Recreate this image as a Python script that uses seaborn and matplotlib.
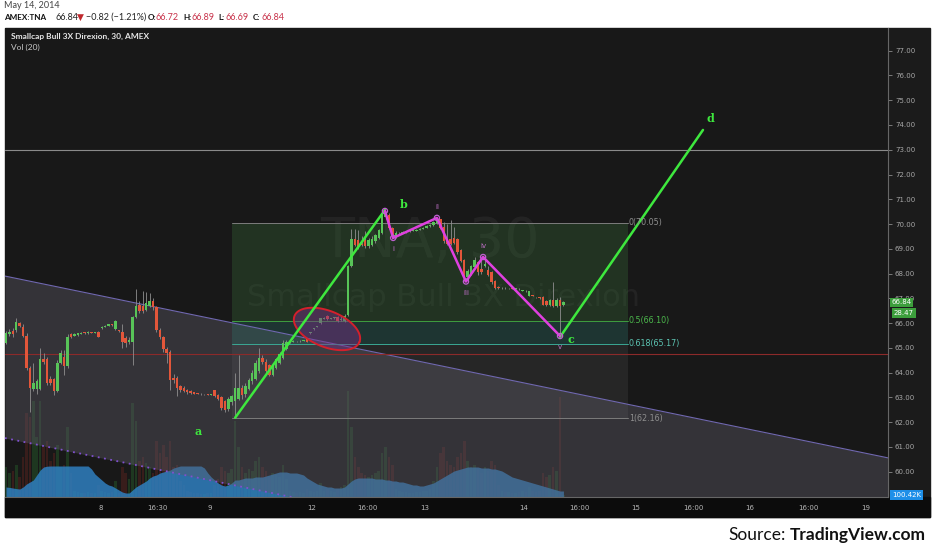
import numpy as np
import pandas as pd
import matplotlib
matplotlib.use("Agg")
import matplotlib.pyplot as plt
import seaborn as sns

# ==================== 数据 (30分钟K线, 含盘前盘后) ====================
opens = [
    65.20, 65.55, 65.70, 65.72, 66.00, 65.85, 65.50, 64.20, 63.35, 63.35,
    63.35, 64.55, 64.55, 63.75, 63.75, 63.25, 64.40, 64.65, 64.25, 65.55,
    65.50, 65.52, 65.58, 65.62, 65.60, 65.64, 65.62, 65.66, 65.80, 65.86,
    65.90, 65.95, 65.75, 65.70, 65.64, 65.40, 65.25, 65.24, 66.25, 66.75,
    66.70, 66.55, 66.70, 66.90, 66.65, 65.72, 65.45, 64.95, 64.85, 63.80,
    63.80, 63.45, 63.40, 63.30, 63.25, 63.20, 63.15, 63.14, 63.12, 63.12,
    63.10, 63.30, 63.10, 63.00, 62.85, 62.55, 62.80, 62.85, 62.95, 63.40,
    63.15, 63.35, 63.65, 63.75, 64.05, 64.60, 64.45, 64.30, 63.90, 64.20,
    64.40, 64.60, 64.95, 65.22, 65.25, 65.27, 65.26, 65.28, 65.38, 65.60,
    65.75, 65.85, 66.00, 66.18, 66.30, 66.18, 66.20, 66.25, 66.12, 66.10,
    66.33, 68.30, 69.40, 69.35, 69.20, 69.35, 69.10, 69.15, 69.30, 69.45,
    69.65, 70.30, 70.37, 69.84, 69.50, 69.62, 69.65, 69.68, 69.70, 69.72,
    69.74, 69.78, 69.82, 69.85, 69.92, 69.96, 70.05, 70.20, 69.90, 69.40,
    69.40, 69.44, 69.40, 68.95, 68.55, 67.85, 68.00, 68.25, 68.45, 68.20,
    68.30, 68.15, 68.05, 67.70, 67.45, 67.40, 67.42, 67.40, 67.41, 67.39,
    67.38, 67.30, 67.30, 67.10, 67.12, 67.05, 67.02, 67.05, 66.90, 66.72,
    66.95, 66.70, 66.95, 66.72,
]
highs = [
    65.70, 65.75, 65.80, 66.20, 66.05, 65.95, 65.60, 64.25, 64.40, 63.75,
    65.00, 64.80, 64.65, 63.85, 63.80, 64.50, 64.90, 64.90, 65.55, 65.60,
    65.62, 65.62, 65.64, 65.65, 65.68, 65.66, 65.66, 65.70, 65.88, 65.92,
    65.97, 65.97, 66.12, 65.72, 65.95, 65.50, 65.45, 66.30, 67.38, 66.90,
    67.30, 67.25, 67.20, 67.00, 66.70, 65.80, 65.50, 65.05, 64.90, 63.95,
    63.85, 63.50, 63.45, 63.35, 63.30, 63.22, 63.17, 63.16, 63.15, 63.14,
    63.14, 63.32, 63.15, 63.05, 62.90, 63.00, 63.10, 64.00, 64.70, 63.50,
    63.60, 63.80, 64.10, 64.50, 65.00, 64.70, 64.55, 64.35, 64.40, 64.60,
    64.85, 65.30, 65.30, 65.30, 65.30, 65.29, 65.30, 65.32, 65.40, 65.64,
    65.80, 65.90, 66.22, 66.25, 66.33, 66.22, 66.25, 66.28, 66.30, 66.35,
    68.35, 69.82, 69.80, 69.75, 69.50, 69.70, 69.45, 69.50, 69.60, 69.80,
    70.40, 70.53, 70.45, 69.90, 69.70, 69.68, 69.72, 69.74, 69.76, 69.78,
    69.80, 69.85, 69.88, 69.95, 70.00, 70.12, 70.25, 70.22, 70.10, 70.00,
    70.15, 69.90, 69.45, 69.00, 68.60, 68.20, 68.35, 68.65, 68.50, 68.60,
    68.67, 68.30, 68.10, 67.75, 67.48, 67.45, 67.44, 67.43, 67.43, 67.42,
    67.40, 67.34, 67.32, 67.30, 67.14, 67.07, 67.04, 67.08, 66.95, 66.96,
    67.66, 67.00, 67.05, 66.89,
]
lows = [
    65.15, 65.50, 65.45, 65.65, 65.85, 65.45, 64.10, 62.40, 63.25, 63.15,
    63.30, 64.35, 63.50, 63.50, 63.10, 63.20, 64.35, 63.90, 64.20, 65.40,
    65.48, 65.50, 65.56, 65.58, 65.58, 65.60, 65.60, 65.42, 65.78, 65.84,
    65.88, 65.90, 65.72, 65.66, 65.00, 65.05, 65.15, 64.30, 66.20, 66.40,
    66.40, 66.50, 66.65, 66.55, 65.65, 65.35, 64.85, 64.40, 63.30, 63.60,
    63.05, 63.20, 63.20, 63.15, 63.12, 63.12, 63.12, 63.10, 63.10, 63.08,
    63.08, 63.00, 62.90, 62.50, 62.40, 62.45, 62.70, 62.16, 62.90, 62.95,
    63.00, 63.30, 63.55, 63.70, 64.00, 64.35, 63.95, 63.85, 63.85, 64.15,
    64.35, 64.55, 64.90, 65.20, 65.22, 65.24, 65.24, 65.26, 65.22, 65.58,
    65.73, 65.83, 65.98, 66.15, 66.12, 66.15, 66.18, 66.05, 66.08, 66.05,
    66.30, 68.25, 69.10, 69.00, 69.10, 69.05, 69.05, 69.10, 69.25, 69.40,
    69.60, 70.20, 69.80, 69.40, 69.45, 69.60, 69.62, 69.65, 69.68, 69.70,
    69.72, 69.75, 69.80, 69.83, 69.90, 69.92, 70.00, 69.80, 69.25, 69.15,
    69.15, 69.20, 68.80, 68.45, 67.70, 67.75, 67.95, 68.20, 67.95, 68.00,
    68.25, 67.90, 67.60, 67.38, 67.36, 67.38, 67.38, 67.38, 67.37, 67.37,
    67.34, 67.28, 67.26, 67.08, 67.08, 67.02, 66.98, 66.72, 66.70, 66.68,
    66.65, 66.65, 65.40, 66.69,
]
closes = [
    65.60, 65.65, 65.55, 66.05, 65.90, 65.50, 64.20, 63.40, 63.60, 63.65,
    64.55, 64.45, 63.60, 63.60, 63.25, 64.40, 64.80, 64.25, 65.45, 65.45,
    65.58, 65.60, 65.62, 65.60, 65.66, 65.62, 65.64, 65.45, 65.85, 65.90,
    65.95, 65.93, 66.10, 65.68, 65.24, 65.20, 65.30, 66.25, 66.70, 66.50,
    66.50, 66.80, 66.90, 66.65, 65.72, 65.45, 64.95, 64.80, 63.70, 63.70,
    63.40, 63.30, 63.25, 63.20, 63.18, 63.15, 63.14, 63.12, 63.13, 63.10,
    63.12, 63.05, 62.95, 62.57, 62.50, 62.95, 63.05, 63.40, 63.40, 63.10,
    63.45, 63.70, 64.00, 64.40, 64.60, 64.45, 64.05, 63.90, 64.30, 64.55,
    64.75, 65.20, 65.22, 65.25, 65.27, 65.26, 65.28, 65.30, 65.25, 65.62,
    65.78, 65.88, 66.20, 66.20, 66.15, 66.20, 66.22, 66.08, 66.15, 66.30,
    68.30, 69.40, 69.15, 69.05, 69.15, 69.10, 69.35, 69.40, 69.55, 69.75,
    70.35, 70.40, 69.84, 69.50, 69.62, 69.65, 69.68, 69.70, 69.72, 69.74,
    69.78, 69.82, 69.85, 69.92, 69.95, 70.08, 70.20, 69.84, 69.30, 69.20,
    69.20, 69.25, 68.87, 68.50, 67.82, 68.10, 68.30, 68.55, 68.05, 68.05,
    68.40, 67.95, 67.66, 67.42, 67.40, 67.42, 67.40, 67.41, 67.39, 67.40,
    67.36, 67.32, 67.28, 67.28, 67.10, 67.04, 67.00, 66.75, 66.75, 66.92,
    66.70, 66.95, 66.70, 66.84,
]
# 成交量 (K)
volumes = [
    1500, 1200, 1300, 1600, 1000, 2000, 4200, 4000, 4800, 3000,
    4800, 2500, 2800, 1800, 2200, 2600, 1500, 1600, 3500, 1200,
    300, 250, 200, 200, 250, 200, 200, 600, 300, 250,
    200, 250, 800, 200, 1500, 1200, 900, 4700, 3800, 1800,
    2000, 1700, 1500, 1200, 2800, 2200, 2600, 2000, 2800, 1500,
    1600, 800, 600, 300, 250, 200, 200, 150, 150, 200,
    200, 600, 900, 1500, 1300, 1200, 1400, 3800, 2500, 1500,
    1200, 1400, 1300, 1800, 2000, 1500, 1300, 1000, 1200, 1100,
    1000, 1600, 900, 300, 250, 200, 250, 200, 400, 300,
    250, 300, 700, 300, 400, 300, 250, 400, 500, 600,
    5300, 3500, 2000, 1500, 1200, 1100, 1000, 1100, 1200, 1300,
    2200, 2500, 2000, 1600, 400, 300, 250, 250, 200, 200,
    250, 250, 300, 300, 400, 800, 1500, 2200, 2500, 1800,
    1600, 1500, 2000, 2200, 2800, 1800, 1500, 1600, 1400, 1200,
    1500, 1300, 1800, 1600, 600, 300, 250, 250, 200, 200,
    250, 300, 250, 500, 300, 250, 300, 1200, 1000, 1100,
    1500, 1300, 5000, 100.42,
]
# Vol(20) 均线面积 (K)
vol_ma = [
    500, 480, 450, 420, 400, 500, 650, 750, 850, 1100,
    1350, 1500, 1540, 1550, 1550, 1550, 1550, 1550, 1550, 1550,
    1550, 1550, 1550, 1550, 1550, 1400, 1150, 1000, 850, 700,
    600, 550, 450, 350, 250, 200, 200, 350, 500, 600,
    700, 800, 950, 1050, 1100, 1200, 1250, 1300, 1350, 1450,
    1500, 1550, 1550, 1550, 1550, 1550, 1550, 1550, 1450, 1200,
    1000, 850, 700, 600, 550, 600, 700, 850, 850, 900,
    950, 950, 950, 1000, 1000, 1000, 1050, 1100, 1150, 1200,
    1250, 1250, 1250, 1200, 1200, 1200, 1150, 1100, 950, 850,
    750, 650, 600, 550, 500, 500, 450, 450, 450, 500,
    650, 800, 900, 950, 950, 950, 950, 950, 900, 900,
    900, 850, 850, 800, 800, 750, 750, 700, 650, 600,
    600, 550, 550, 600, 650, 700, 800, 900, 1000, 1100,
    1200, 1300, 1350, 1400, 1450, 1500, 1500, 1500, 1500, 1450,
    1450, 1450, 1400, 1400, 1350, 1300, 1200, 1100, 1000, 950,
    900, 850, 800, 750, 700, 650, 600, 550, 500, 450,
    400, 350, 300, 300,
]

# 斐波那契回撤
fib_ratios = ['0', '0.5', '0.618', '1']
fib_prices = [70.05, 66.10, 65.17, 62.16]
fib_bars = [66.1, 181.9]

# 波浪 a-b-c-d
wave_bars = [67.0, 110.8, 162.0, 203.8]
wave_prices = [62.18, 70.57, 65.44, 73.80]
wave_names = ['a', 'b', 'c', 'd']
wave_name_bars = [56.1, 116.4, 165.2, 206.0]
wave_name_prices = [61.61, 70.77, 65.32, 74.28]

# 子浪 i-v
sub_bars = [110.8, 113.2, 126.0, 134.5, 139.5, 162.0]
sub_prices = [70.53, 69.44, 70.25, 67.68, 68.67, 65.48]
sub_names = ['', 'i', 'ii', 'iii', 'iv', 'v']

# 下降通道
chan_bars = [-0.3, 257.9]
chan_upper = [67.90, 60.56]
chan_lower = [61.36, 54.02]

grey_level = 73.00
red_level = 64.75

price_ticks = list(range(60, 78))
time_pos = [27.8, 44.2, 59.6, 89.5, 105.6, 122.5, 151.5, 167.8, 184.2, 200.9, 217.5, 234.5, 251.5]
time_lbl = ['8', '16:30', '9', '12', '16:00', '13', '14', '16:00', '15', '16:00', '16', '16:00', '19']

last_price = 66.84
timer_lbl = '28.47'
last_vol_lbl = '100.42K'

# ==================== 绘图 ====================
sns.set_style("dark")
plt.rcParams['font.family'] = ['DejaVu Sans']

W, H = 932, 550
def fx(x):
    return x / W
def fy(y):
    return 1 - y / H

fig = plt.figure(figsize=(W / 100, H / 100), dpi=100, facecolor='white')

# 背景块
fig.patches.append(plt.Rectangle((fx(5), fy(517)), fx(925), 489 / H, transform=fig.transFigure,
                                 color='#1b1b1b', zorder=-2))
fig.patches.append(plt.Rectangle((fx(5), fy(517)), fx(925), 20 / H, transform=fig.transFigure,
                                 color='#0c0c0c', zorder=-1))

rect = [fx(5), fy(497), 883 / W, 469 / H]
ax_v = fig.add_axes(rect)
ax = fig.add_axes(rect)

xlim = (-0.29, 257.9)
ylim = (58.98, 77.916)

# 成交量层
ax_v.set_facecolor('#181818')
n = len(closes)
x = np.arange(n)
o = np.array(opens); c = np.array(closes); hi = np.array(highs); lo = np.array(lows)
up = c >= o
vcol = np.where(up, '#2f8a36', '#8c2c24')
ax_v.bar(x, volumes, width=0.75, color=vcol, alpha=0.28, linewidth=0)
ax_v.fill_between(x, 0, vol_ma, color='#2f7fc0', alpha=0.85, linewidth=0)
ax_v.set_ylim(0, 23450)
ax_v.set_xlim(*xlim)
for s in ax_v.spines.values():
    s.set_visible(False)
ax_v.set_xticks([]); ax_v.set_yticks([])
ax_v.tick_params(bottom=False, left=False, labelbottom=False, labelleft=False)

# 价格层
ax.set_facecolor('none')
ax.set_xlim(*xlim)
ax.set_ylim(*ylim)

# 通道
ax.fill_between(chan_bars, chan_lower, chan_upper, color='#5d5a66', alpha=0.42, linewidth=0, zorder=1)
ax.plot(chan_bars, chan_upper, color='#7068b0', lw=0.8, zorder=2)
ax.plot(chan_bars, chan_lower, color='#8050d0', lw=1.3, ls=(0, (1, 2.5)), zorder=2)

# 斐波那契
fib_fill = ['#3c7a3c', '#2f7a70', '#6a6a6a']
fib_alpha = [0.28, 0.30, 0.18]
for k in range(3):
    ax.fill_between(fib_bars, fib_prices[k + 1], fib_prices[k], color=fib_fill[k],
                    alpha=fib_alpha[k], linewidth=0, zorder=1.5)
fib_line = ['#7c7c7c', '#3f9f3f', '#3aa894', '#7c7c7c']
fib_txt = ['#8e8e8e', '#4cb84c', '#5cc4b2', '#8e8e8e']
for r, p, lc, tc in zip(fib_ratios, fib_prices, fib_line, fib_txt):
    ax.plot(fib_bars, [p, p], color=lc, lw=0.7, zorder=2)
    ax.text(fib_bars[1] + 0.2, p, f'{r}({p:.2f})', color=tc, fontsize=5.8,
            va='center', ha='left', zorder=6)

# 水印
ax.text(124, 69.27, 'TNA, 30', color='white', alpha=0.05, fontsize=40,
        ha='center', va='center', zorder=1.2)
ax.text(127.8, 67.02, 'Smallcap Bull 3X Direxion', color='white', alpha=0.05,
        fontsize=22, ha='center', va='center', zorder=1.2)

# 水平线
ax.axhline(grey_level, color='#8a8a8a', lw=0.8, zorder=2)
ax.axhline(red_level, color='#8c2a2a', lw=0.8, zorder=2)

# K线
ax.vlines(x, lo, hi, color='#8f8f8f', lw=0.6, zorder=3)
body_bottom = np.minimum(o, c)
body_h = np.maximum(np.abs(c - o), 0.035)
ax.bar(x, body_h, bottom=body_bottom, width=0.72,
       color=np.where(up, '#58c458', '#e2563a'), linewidth=0, zorder=4)

# 红色椭圆 (像素空间)
t = np.linspace(0, 2 * np.pi, 120)
th = np.deg2rad(-22)
ea, eb = 35, 18
ex = ea * np.cos(t) * np.cos(th) - eb * np.sin(t) * np.sin(th)
ey = ea * np.cos(t) * np.sin(th) + eb * np.sin(t) * np.cos(th)
ecx, ecy = (327 - 6) / 3.42, 77 - (329 - 50.7) / 24.77
ax.fill(ecx + ex / 3.42, ecy + ey / 24.77, facecolor='#7a2f8a', alpha=0.45, edgecolor='none', zorder=4.5)
ax.plot(ecx + ex / 3.42, ecy + ey / 24.77, color='#d4202c', lw=1.4, zorder=4.6)

# 波浪线
waves = pd.DataFrame({'bar': wave_bars, 'price': wave_prices})
sns.lineplot(data=waves.iloc[:2], x='bar', y='price', ax=ax, color='#3ee83e', lw=1.8, zorder=5)
sns.lineplot(data=waves.iloc[2:], x='bar', y='price', ax=ax, color='#3ee83e', lw=1.8, zorder=5)
subs = pd.DataFrame({'bar': sub_bars, 'price': sub_prices})
sns.lineplot(data=subs, x='bar', y='price', ax=ax, sort=False, color='#e040e0', lw=1.8, zorder=5.2)
sns.scatterplot(data=subs, x='bar', y='price', ax=ax, s=14, facecolor='none',
                edgecolor='#c060d0', linewidth=0.9, zorder=5.3)
for nm, bx, py in zip(wave_names, wave_name_bars, wave_name_prices):
    ax.text(bx, py, nm, color='#3ee83e', fontsize=8, fontweight='bold',
            family='DejaVu Serif', ha='center', va='center', zorder=7)
for nm, bx, py in zip(sub_names, sub_bars, sub_prices):
    if not nm:
        continue
    dy = 8 if nm in ('ii', 'iv') else -8
    ax.annotate(nm, (bx, py), xytext=(0, dy), textcoords='offset points', color='#c070c8',
                fontsize=5, ha='center', va='center', zorder=7)

# 坐标轴
ax.set_xlabel(''); ax.set_ylabel('')
ax.yaxis.tick_right()
ax.set_yticks(price_ticks)
ax.set_yticklabels([f'{p:.2f}' for p in price_ticks])
ax.set_xticks(time_pos)
ax.set_xticklabels(time_lbl)
ax.tick_params(axis='y', colors='#8a8a8a', labelcolor='#a8a8a8', labelsize=5, length=3, width=0.6, pad=2)
ax.tick_params(axis='x', colors='#8a8a8a', labelcolor='#b8b8b8', labelsize=5, length=3, width=0.6, pad=3)
ax.grid(False)
for side in ['top', 'left']:
    ax.spines[side].set_visible(False)
for side in ['right', 'bottom']:
    ax.spines[side].set_color('#666666')
    ax.spines[side].set_linewidth(0.8)

# 右侧价格标签
box = dict(boxstyle='square,pad=0.25', linewidth=0)
ax.text(1.004, last_price, f'{last_price:.2f}', transform=ax.get_yaxis_transform(), fontsize=5,
        color='white', ha='left', va='center', bbox=dict(box, facecolor='#3c9e3c'), zorder=8)
fig.text(fx(894), fy(313), timer_lbl, fontsize=5, color='white', ha='left', va='center',
         bbox=dict(box, facecolor='#3c9e3c'))
fig.text(fx(892), fy(495), last_vol_lbl, fontsize=5, color='white', ha='left', va='center',
         bbox=dict(box, facecolor='#1e8fe8'))

# 图内标题
fam = ['Lato', 'DejaVu Sans']
fig.text(fx(11), fy(36), 'Smallcap Bull 3X Direxion, 30, AMEX', color='#e6e6e6', fontsize=6,
         fontweight='bold', family=fam, va='center')
fig.text(fx(11), fy(47), 'Vol (20)', color='#c8c8c8', fontsize=6, family=fam, va='center')

# 顶部信息
fig.text(fx(4), fy(6), 'May 14, 2014', color='#444444', fontsize=6.5, family=fam, va='center')
header = [
    (4, 'AMEX:TNA', '#111111', 'bold'), (55, '66.84', '#222222', 'normal'),
    (77, '▼', '#c0282d', 'normal'), (86, '−0.82 (−1.21%)', '#222222', 'normal'),
    (148, 'O:', '#111111', 'bold'), (156, '66.72', '#c8324a', 'normal'),
    (183, 'H:', '#111111', 'bold'), (191, '66.89', '#c8324a', 'normal'),
    (218, 'L:', '#111111', 'bold'), (225, '66.69', '#c8324a', 'normal'),
    (253, 'C:', '#111111', 'bold'), (261, '66.84', '#c8324a', 'normal'),
]
for hx, txt, col, wt in header:
    fig.text(fx(hx), fy(17), txt, color=col, fontsize=5.9 if wt == 'bold' else 6.5,
             fontweight=wt, family=fam, va='center')

# 来源
fig.text(fx(926), fy(535), 'TradingView.com', color='#111111', fontsize=12.5, fontweight='bold',
         family=fam, ha='right', va='center')
fig.text(fx(786), fy(535), 'Source:', color='#111111', fontsize=12.5, family=fam,
         ha='right', va='center')

fig.savefig('out.png', dpi=100, facecolor='white')
